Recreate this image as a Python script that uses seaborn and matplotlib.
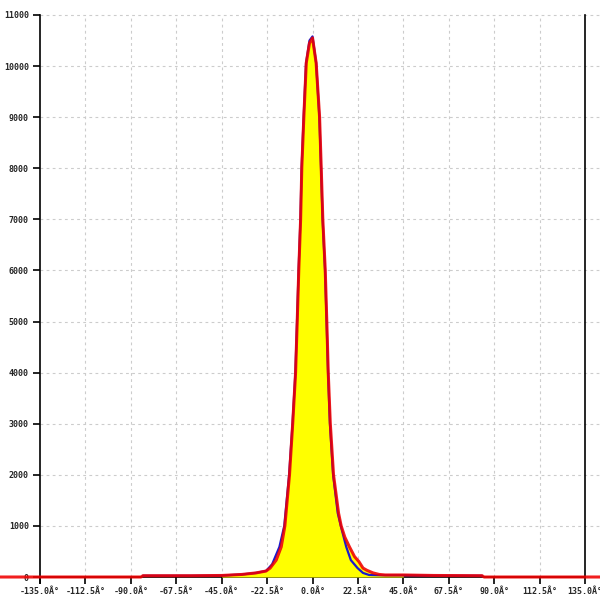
import matplotlib
matplotlib.use("Agg")
import matplotlib.pyplot as plt
import seaborn as sns
import pandas as pd
import numpy as np

# ---- data ----
red_x = [-155, -85, -84, -60, -45, -35, -28, -23, -21, -18, -15.5, -13.7, -11.4, -9.8, -8.4,
         -7.6, -6.8, -5.9, -5.3, -4.3, -3.1, -1.5, 0, 1.8, 3.5, 4.3, 5.1, 6.3, 7.1, 7.8, 8.8,
         10.4, 12.9, 14.2, 16, 18.3, 20.8, 23, 25, 27, 30, 33, 36, 45, 60, 84, 85, 143]
red_y = [0, 0, 25, 25, 30, 50, 80, 117, 175, 330, 590, 1000, 2000, 3010, 3990,
         4970, 6010, 6990, 8020, 9000, 10060, 10450, 10550, 10060, 9000, 8020, 7000, 6010, 4970, 3990, 3010,
         2000, 1250, 1000, 780, 590, 400, 300, 175, 130, 80, 50, 40, 40, 30, 25, 0, 0]

blue_x = [-84, -60, -45, -35, -28, -23, -20, -16.4, -14, -11.6, -9.9, -8.5, -7.7, -6.9, -6.0,
          -5.4, -4.4, -3.2, -1.5, 0, 1.8, 3.4, 4.2, 5.0, 6.2, 7.0, 7.7, 8.6, 10.2, 12.5,
          14, 16.7, 19, 22.3, 25, 28, 33, 45, 60, 84]
blue_y = [25, 25, 30, 50, 80, 120, 250, 590, 1000, 2000, 3010, 3990, 4970, 6010, 6990,
          8020, 9000, 10060, 10500, 10580, 10060, 9000, 8020, 7000, 6010, 4970, 3990, 3010, 2000, 1250,
          1000, 590, 330, 175, 80, 40, 35, 35, 28, 25]

x_ticks = [-135, -112.5, -90, -67.5, -45, -22.5, 0, 22.5, 45, 67.5, 90, 112.5, 135]
x_tick_labels = ["%.1fÂ°" % v for v in x_ticks]
y_ticks = [0, 1000, 2000, 3000, 4000, 5000, 6000, 7000, 8000, 9000, 10000, 11000]
y_tick_labels = [str(v) for v in y_ticks]

sns.set_style("white")
plt.rcParams['font.family'] = ['DejaVu Sans Mono', 'DejaVu Sans']

fig = plt.figure(figsize=(6, 6), dpi=100)
ax = fig.add_axes([0, 0, 1, 1])
ax.set_xlim(-154.8, 142.4)
ax.set_ylim(-450, 11293)

# grid
grid_kw = dict(color="#cccccc", linestyle=(0, (2.5, 3)), linewidth=0.8, zorder=0)
ax.hlines(y_ticks[1:], x_ticks[0], 142.4, **grid_kw)
ax.vlines(x_ticks[1:-1], 0, y_ticks[-1], **grid_kw)

df_red = pd.DataFrame({"x": red_x, "y": red_y})
df_blue = pd.DataFrame({"x": blue_x, "y": blue_y})
fill = df_red[(df_red.x >= -45) & (df_red.x <= 45)]
ax.fill_between(fill.x, 0, fill.y, color="#ffff00", linewidth=0, zorder=2)

sns.lineplot(data=df_blue, x="x", y="y", ax=ax, color="#1a1acc", linewidth=1.6,
             estimator=None, sort=False, zorder=3)
sns.lineplot(data=df_red, x="x", y="y", ax=ax, color="#f00000", linewidth=2.2,
             estimator=None, sort=False, zorder=4, alpha=0.88)

# spines
ax.spines["top"].set_visible(False)
ax.spines["left"].set_position(("data", -135))
ax.spines["left"].set_bounds(-110, 11000)
ax.spines["right"].set_position(("data", 135))
ax.spines["right"].set_bounds(0, 11000)
ax.spines["bottom"].set_position(("data", 0))
ax.spines["bottom"].set_bounds(-135, 135)
for s in ["left", "right", "bottom"]:
    ax.spines[s].set_color("black")
    ax.spines[s].set_linewidth(1.2)
    ax.spines[s].set_zorder(1)

ax.set_xticks(x_ticks)
ax.set_xticklabels(x_tick_labels)
ax.set_yticks(y_ticks)
ax.set_yticklabels(y_tick_labels)
ax.tick_params(axis="both", direction="out", length=5, width=1.2, color="black",
               labelsize=6, pad=3)
ax.tick_params(axis="x", bottom=True, pad=2)
ax.tick_params(axis="y", left=True)
for lab in ax.get_xticklabels() + ax.get_yticklabels():
    lab.set_fontweight("bold")
ax.set_xlabel("")
ax.set_ylabel("")

fig.savefig("out.png", dpi=100)
